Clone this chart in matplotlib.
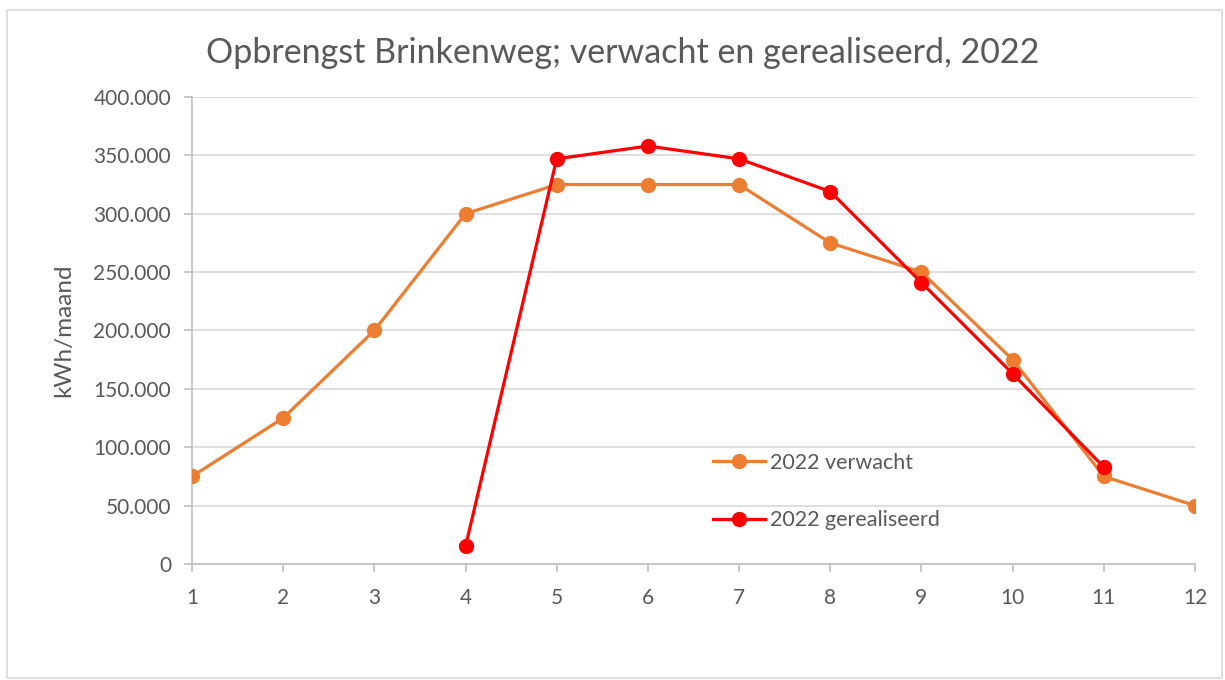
import matplotlib.pyplot as plt
from matplotlib.patches import Rectangle
from matplotlib.ticker import FuncFormatter

months = list(range(1, 13))
verwacht = [75000, 125000, 200000, 300000, 325000, 325000, 325000,
            275000, 250000, 175000, 75000, 50000]
real_months = [4, 5, 6, 7, 8, 9, 10, 11]
gerealiseerd = [15000, 347000, 358000, 347000, 319000, 241000, 163000, 83000]

plt.rcParams["font.family"] = ["Lato", "DejaVu Sans"]
text_col = "#595959"
grid_col = "#d9d9d9"

fig = plt.figure(figsize=(12.25, 6.8), dpi=100)
ax = fig.add_axes([0.1567, 0.1706, 0.8188, 0.6868])

# chart border
fig.patches.append(Rectangle((7 / 1225, 2 / 680), 1215 / 1225, 668 / 680,
                             transform=fig.transFigure, fill=False,
                             edgecolor="#d9d9d9", linewidth=1.2))

ax.plot(months, verwacht, "-o", color="#ED7D31", linewidth=2.3,
        markersize=10, label="2022 verwacht", zorder=3)
ax.plot(real_months, gerealiseerd, "-o", color="#FF0000", linewidth=2.3,
        markersize=10, label="2022 gerealiseerd", zorder=4)

ax.set_xlim(1, 12)
ax.set_ylim(0, 400000)
ax.set_xticks(months)
ax.set_yticks(range(0, 400001, 50000))
ax.yaxis.set_major_formatter(
    FuncFormatter(lambda v, p: "0" if v == 0 else f"{int(v):,}".replace(",", ".")))
ax.grid(True, axis="y", color=grid_col, linewidth=1.2, zorder=0)
ax.set_axisbelow(True)

for s in ["top", "right"]:
    ax.spines[s].set_visible(False)
for s in ["left", "bottom"]:
    ax.spines[s].set_color("#bfbfbf")
    ax.spines[s].set_linewidth(1.2)
ax.tick_params(axis="both", colors="#bfbfbf", labelcolor=text_col,
               labelsize=15, length=6, width=1.2)
ax.tick_params(axis="x", pad=11)
ax.tick_params(axis="y", pad=9)

ax.set_ylabel("kWh/maand", fontsize=17.5, color=text_col)
ax.yaxis.set_label_coords(-0.117, 0.5)
fig.text(0.508, 0.922, "Opbrengst Brinkenweg; verwacht en gerealiseerd, 2022",
         ha="center", va="center", fontsize=24.5, color=text_col)

ax.legend(loc="upper left", bbox_to_anchor=(0.5, 0.28), frameon=False,
          fontsize=15.5, labelspacing=1.75, handlelength=2.4, handletextpad=0.25,
          labelcolor=text_col)

fig.savefig("out.png", dpi=100)
